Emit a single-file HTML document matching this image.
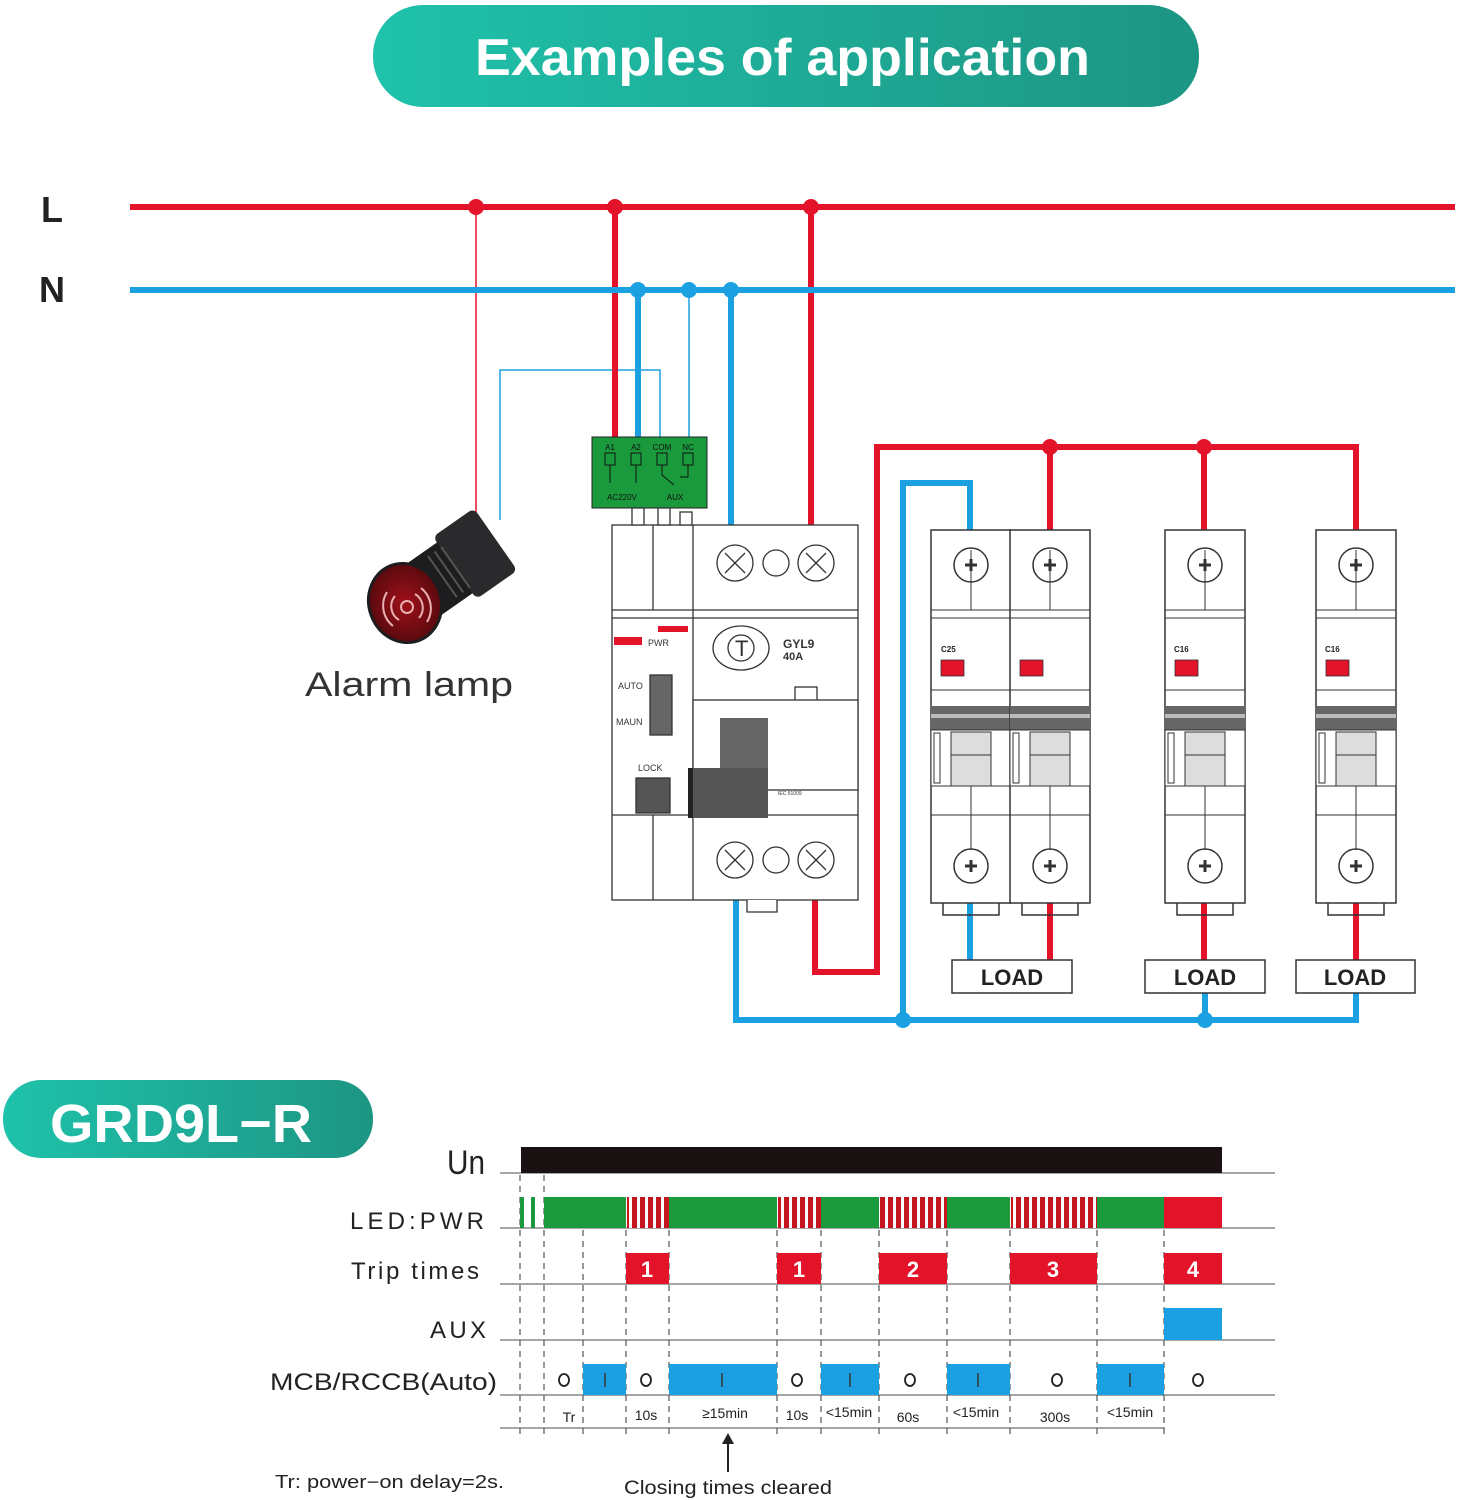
<!DOCTYPE html>
<html><head><meta charset="utf-8"><style>
html,body{margin:0;padding:0;background:#fff}
svg{display:block}
text{font-family:"Liberation Sans",sans-serif}
</style></head><body>
<svg width="1460" height="1500" viewBox="0 0 1460 1500" xmlns="http://www.w3.org/2000/svg">
<defs>
<linearGradient id="tg" x1="0" x2="1" y1="0" y2="0"><stop offset="0" stop-color="#1fc2ab"/><stop offset="1" stop-color="#1d9583"/></linearGradient>
<pattern id="st" patternUnits="userSpaceOnUse" width="8" height="40"><rect width="8" height="40" fill="#fff"/><rect width="5" height="40" fill="#c4161c"/></pattern>
<radialGradient id="lf" cx="0.5" cy="0.5" r="0.5"><stop offset="0" stop-color="#a0101a"/><stop offset="1" stop-color="#5a0a0e"/></radialGradient>
<g id="mcb">
 <rect x="0" y="0" width="80" height="373" fill="#fff" stroke="#333" stroke-width="1.5"/>
 <line x1="0" y1="80" x2="80" y2="80" stroke="#333"/>
 <line x1="0" y1="88" x2="80" y2="88" stroke="#333"/>
 <circle cx="40" cy="35" r="17" fill="#fff" stroke="#333" stroke-width="1.5"/>
 <path d="M34 35h12M40 29v12" stroke="#333" stroke-width="3"/>
 <line x1="40" y1="20" x2="40" y2="80" stroke="#333"/>
 <rect x="10" y="130" width="23" height="16" fill="#e3132a" stroke="#333" stroke-width="0.8"/>
 <line x1="0" y1="160" x2="80" y2="160" stroke="#333"/>
 <rect x="0" y="176" width="80" height="24" fill="#666"/>
 <rect x="0" y="184" width="80" height="4" fill="#bbb"/>
 <rect x="0" y="200" width="80" height="56" fill="#fff" stroke="#333"/>
 <rect x="3" y="203" width="6" height="50" fill="#fff" stroke="#333"/>
 <rect x="20" y="202" width="40" height="54" fill="#ddd" stroke="#333"/>
 <line x1="20" y1="225" x2="60" y2="225" stroke="#333"/>
 <line x1="0" y1="285" x2="80" y2="285" stroke="#333"/>
 <circle cx="40" cy="336" r="17" fill="#fff" stroke="#333" stroke-width="1.5"/>
 <path d="M34 336h12M40 330v12" stroke="#333" stroke-width="3"/>
 <line x1="40" y1="256" x2="40" y2="320" stroke="#333"/>
 <path d="M12 373 v12 h56 v-12" fill="none" stroke="#333" stroke-width="1.5"/>
</g>
</defs>

<rect x="373" y="5" width="826" height="102" rx="50" fill="url(#tg)"/>
<text x="475" y="75" font-size="52" font-weight="bold" fill="#fff" textLength="615" lengthAdjust="spacingAndGlyphs">Examples of application</text>

<text x="52" y="222" text-anchor="middle" font-size="36" font-weight="bold" fill="#222">L</text>
<text x="52" y="302" text-anchor="middle" font-size="36" font-weight="bold" fill="#222">N</text>

<line x1="476" y1="207" x2="476" y2="520" stroke="#e3132a" stroke-width="1.5"/>
<polyline points="500,520 500,370 660,370 660,440" fill="none" stroke="#1ba1e2" stroke-width="1.5"/>
<line x1="689" y1="290" x2="689" y2="440" stroke="#1ba1e2" stroke-width="1.5"/>

<g fill="none" stroke-width="6">
<line x1="615" y1="207" x2="615" y2="440" stroke="#e3132a"/>
<line x1="638" y1="290" x2="638" y2="440" stroke="#1ba1e2"/>
<line x1="731" y1="290" x2="731" y2="530" stroke="#1ba1e2"/>
<line x1="811" y1="207" x2="811" y2="530" stroke="#e3132a"/>
<polyline points="815,895 815,972 877,972 877,447 1356,447 1356,532" stroke="#e3132a"/>
<line x1="1050" y1="447" x2="1050" y2="532" stroke="#e3132a"/>
<line x1="1204" y1="447" x2="1204" y2="532" stroke="#e3132a"/>
<polyline points="970,532 970,483 903,483 903,1020" stroke="#1ba1e2"/>
<polyline points="736,895 736,1020 1356,1020 1356,993" stroke="#1ba1e2"/>
<line x1="1205" y1="1020" x2="1205" y2="993" stroke="#1ba1e2"/>
<line x1="970" y1="900" x2="970" y2="960" stroke="#1ba1e2"/>
<line x1="1050" y1="900" x2="1050" y2="960" stroke="#e3132a"/>
<line x1="1204" y1="900" x2="1204" y2="960" stroke="#e3132a"/>
<line x1="1356" y1="900" x2="1356" y2="960" stroke="#e3132a"/>
</g>
<line x1="130" y1="207" x2="1455" y2="207" stroke="#e3132a" stroke-width="6"/>
<line x1="130" y1="290" x2="1455" y2="290" stroke="#1ba1e2" stroke-width="6"/>
<g fill="#e3132a"><circle cx="476" cy="207" r="8"/><circle cx="615" cy="207" r="8"/><circle cx="811" cy="207" r="8"/><circle cx="1050" cy="447" r="8"/><circle cx="1204" cy="447" r="8"/></g>
<g fill="#1ba1e2"><circle cx="638" cy="290" r="8"/><circle cx="689" cy="290" r="8"/><circle cx="731" cy="290" r="8"/><circle cx="903" cy="1020" r="8"/><circle cx="1205" cy="1020" r="8"/></g>

<rect x="592" y="437" width="115" height="71" fill="#1a9a3c" stroke="#222"/>
<g font-size="8" fill="#111" text-anchor="middle"><text x="610" y="450">A1</text><text x="636" y="450">A2</text><text x="662" y="450">COM</text><text x="688" y="450">NC</text>
<text x="622" y="500">AC220V</text><text x="675" y="500">AUX</text></g>
<g fill="none" stroke="#111"><rect x="605" y="453" width="10" height="12"/><rect x="631" y="453" width="10" height="12"/><rect x="657" y="453" width="10" height="12"/><rect x="683" y="453" width="10" height="12"/>
<path d="M610 465v18M636 465v18M662 465v10l12 10M688 465v12h-8"/></g>

<g stroke="#333" fill="#fff" stroke-width="1.3">
<rect x="612" y="525" width="246" height="375"/>
<line x1="612" y1="610" x2="858" y2="610"/><line x1="612" y1="618" x2="858" y2="618"/>
<line x1="612" y1="815" x2="858" y2="815"/>
<line x1="653" y1="525" x2="653" y2="610"/><line x1="693" y1="525" x2="693" y2="900"/><line x1="653" y1="815" x2="653" y2="900"/>
<rect x="632" y="508" width="12" height="17"/><rect x="658" y="508" width="12" height="17"/><rect x="680" y="512" width="12" height="13"/>
<circle cx="735" cy="563" r="18"/><circle cx="776" cy="563" r="13"/><circle cx="816" cy="563" r="18"/>
<circle cx="735" cy="860" r="18"/><circle cx="776" cy="860" r="13"/><circle cx="816" cy="860" r="18"/>
<ellipse cx="741" cy="648" rx="28" ry="22"/><circle cx="741" cy="648" r="13"/>
<rect x="795" y="687" width="22" height="15"/>
<rect x="693" y="700" width="165" height="90"/>
<rect x="650" y="675" width="22" height="60" fill="#666"/>
<rect x="636" y="778" width="34" height="35" fill="#555"/>
<path d="M747 900v12h30v-12"/>
</g>
<rect x="720" y="718" width="48" height="50" fill="#666"/>
<rect x="688" y="768" width="80" height="50" fill="#555"/>
<rect x="688" y="768" width="5" height="50" fill="#222"/>
<rect x="614" y="637" width="28" height="8" fill="#e3132a"/>
<rect x="658" y="626" width="30" height="6" fill="#e3132a"/>
<g font-size="9" fill="#333"><text x="648" y="646">PWR</text><text x="618" y="689">AUTO</text><text x="616" y="725">MAUN</text><text x="638" y="771">LOCK</text>
<text x="735" y="656" font-size="22">T</text>
<text x="783" y="648" font-size="12" font-weight="bold">GYL9</text><text x="783" y="660" font-size="11" font-weight="bold">40A</text>
<text x="778" y="795" font-size="5">IEC 61009</text></g>
<g stroke="#333" fill="none" stroke-width="1.3"><path d="M725 553l20 20M745 553l-20 20M806 553l20 20M826 553l-20 20M725 850l20 20M745 850l-20 20M806 850l20 20M826 850l-20 20"/></g>

<use href="#mcb" x="931" y="530"/><use href="#mcb" x="1010" y="530"/>
<use href="#mcb" x="1165" y="530"/><use href="#mcb" x="1316" y="530"/>
<g font-size="8" fill="#222" font-weight="bold"><text x="941" y="652">C25</text><text x="1174" y="652">C16</text><text x="1325" y="652">C16</text></g>

<g fill="#fff" stroke="#333" stroke-width="1.5"><rect x="952" y="960" width="120" height="33"/><rect x="1145" y="960" width="120" height="33"/><rect x="1296" y="960" width="119" height="33"/></g>
<g font-size="22" font-weight="bold" fill="#222" text-anchor="middle"><text x="1012" y="985">LOAD</text><text x="1205" y="985">LOAD</text><text x="1355" y="985">LOAD</text></g>

<g transform="rotate(-35 450 570)">
<rect x="405" y="540" width="95" height="62" rx="8" fill="#1d1d1f"/>
<rect x="455" y="533" width="50" height="76" rx="6" fill="#2a2a2c"/>
<g stroke="#555" stroke-width="2"><line x1="440" y1="546" x2="440" y2="596"/><line x1="448" y1="546" x2="448" y2="596"/><line x1="456" y1="546" x2="456" y2="596"/></g>
</g>
<ellipse cx="405" cy="603" rx="36" ry="40" transform="rotate(-20 405 603)" fill="url(#lf)" stroke="#1d1d1f" stroke-width="3"/>
<g fill="none" stroke="#e8b0b0" stroke-width="2"><circle cx="407" cy="607" r="6"/><path d="M395 596a16 16 0 0 0 4 24M419 618a16 16 0 0 0-4-24M387 592a26 26 0 0 0 6 34M427 622a26 26 0 0 0-6-34"/></g>
<text x="305" y="696" font-size="34" fill="#333" textLength="208" lengthAdjust="spacingAndGlyphs">Alarm lamp</text>

<rect x="3" y="1080" width="370" height="78" rx="38" fill="url(#tg)"/>
<text x="50" y="1142" font-size="54" font-weight="bold" fill="#fff" textLength="262" lengthAdjust="spacingAndGlyphs">GRD9L−R</text>

<g fill="#222">
<text x="447" y="1174" font-size="34" textLength="38" lengthAdjust="spacingAndGlyphs">Un</text>
<text x="350" y="1229" font-size="24" textLength="134" lengthAdjust="spacing">LED:PWR</text>
<text x="351" y="1279" font-size="24" textLength="128" lengthAdjust="spacing">Trip times</text>
<text x="430" y="1338" font-size="24" textLength="56" lengthAdjust="spacing">AUX</text>
<text x="270" y="1390" font-size="24" textLength="227" lengthAdjust="spacingAndGlyphs">MCB/RCCB(Auto)</text>
</g>
<g stroke="#888" stroke-width="1.5"><line x1="500" y1="1173" x2="1275" y2="1173"/><line x1="500" y1="1228" x2="1275" y2="1228"/><line x1="500" y1="1284" x2="1275" y2="1284"/><line x1="500" y1="1340" x2="1275" y2="1340"/><line x1="500" y1="1395" x2="1275" y2="1395"/><line x1="500" y1="1428" x2="1165" y2="1428"/></g>
<g stroke="#555" stroke-width="1.2" stroke-dasharray="6 5">
<line x1="520" y1="1175" x2="520" y2="1435"/><line x1="544" y1="1175" x2="544" y2="1435"/><line x1="583" y1="1230" x2="583" y2="1435"/><line x1="626" y1="1230" x2="626" y2="1435"/><line x1="669" y1="1230" x2="669" y2="1435"/><line x1="777" y1="1230" x2="777" y2="1435"/><line x1="821" y1="1230" x2="821" y2="1435"/><line x1="879" y1="1230" x2="879" y2="1435"/><line x1="947" y1="1230" x2="947" y2="1435"/><line x1="1010" y1="1230" x2="1010" y2="1435"/><line x1="1097" y1="1230" x2="1097" y2="1435"/><line x1="1164" y1="1230" x2="1164" y2="1435"/>
</g>
<rect x="521" y="1147" width="701" height="26" fill="#1a1212"/>
<rect x="520" y="1197" width="4" height="31" fill="#1a9a3c"/><rect x="531" y="1197" width="4" height="31" fill="#1a9a3c"/>
<g fill="#1a9a3c"><rect x="544" y="1197" width="82" height="31"/><rect x="669" y="1197" width="108" height="31"/><rect x="821" y="1197" width="58" height="31"/><rect x="947" y="1197" width="63" height="31"/><rect x="1097" y="1197" width="67" height="31"/></g>
<g fill="url(#st)"><rect x="627" y="1197" width="42" height="31"/><rect x="778" y="1197" width="43" height="31"/><rect x="880" y="1197" width="67" height="31"/><rect x="1011" y="1197" width="86" height="31"/></g>
<rect x="1164" y="1197" width="58" height="31" fill="#e3132a"/>
<g fill="#e3132a"><rect x="626" y="1253" width="43" height="31"/><rect x="777" y="1253" width="44" height="31"/><rect x="879" y="1253" width="68" height="31"/><rect x="1010" y="1253" width="87" height="31"/><rect x="1164" y="1253" width="58" height="31"/></g>
<g fill="#fff" font-size="22" font-weight="bold" text-anchor="middle"><text x="647" y="1277">1</text><text x="799" y="1277">1</text><text x="913" y="1277">2</text><text x="1053" y="1277">3</text><text x="1193" y="1277">4</text></g>
<rect x="1164" y="1308" width="58" height="32" fill="#1ba1e2"/>
<g fill="#1ba1e2"><rect x="583" y="1364" width="43" height="31"/><rect x="669" y="1364" width="108" height="31"/><rect x="821" y="1364" width="58" height="31"/><rect x="947" y="1364" width="63" height="31"/><rect x="1097" y="1364" width="67" height="31"/></g>
<g stroke="#333" stroke-width="1.5"><line x1="605" y1="1373" x2="605" y2="1387"/><line x1="722" y1="1373" x2="722" y2="1387"/><line x1="850" y1="1373" x2="850" y2="1387"/><line x1="978" y1="1373" x2="978" y2="1387"/><line x1="1130" y1="1373" x2="1130" y2="1387"/></g>
<g fill="none" stroke="#222" stroke-width="1.8"><ellipse cx="564" cy="1380" rx="5" ry="6"/><ellipse cx="646" cy="1380" rx="5" ry="6"/><ellipse cx="797" cy="1380" rx="5" ry="6"/><ellipse cx="910" cy="1380" rx="5" ry="6"/><ellipse cx="1057" cy="1380" rx="5" ry="6"/><ellipse cx="1198" cy="1380" rx="5" ry="6"/></g>
<g font-size="14" fill="#222" text-anchor="middle"><text x="569" y="1422">Tr</text><text x="646" y="1420">10s</text><text x="725" y="1418">≥15min</text><text x="797" y="1420">10s</text><text x="849" y="1417">&lt;15min</text><text x="908" y="1422">60s</text><text x="976" y="1417">&lt;15min</text><text x="1055" y="1422">300s</text><text x="1130" y="1417">&lt;15min</text></g>
<line x1="728" y1="1472" x2="728" y2="1440" stroke="#222" stroke-width="2"/><path d="M722 1444 728 1433 734 1444z" fill="#222"/>
<text x="275" y="1488" font-size="18" fill="#222" textLength="229" lengthAdjust="spacingAndGlyphs">Tr: power−on delay=2s.</text>
<text x="624" y="1494" font-size="19" fill="#222" textLength="208" lengthAdjust="spacingAndGlyphs">Closing times cleared</text>
</svg>
</body></html>
